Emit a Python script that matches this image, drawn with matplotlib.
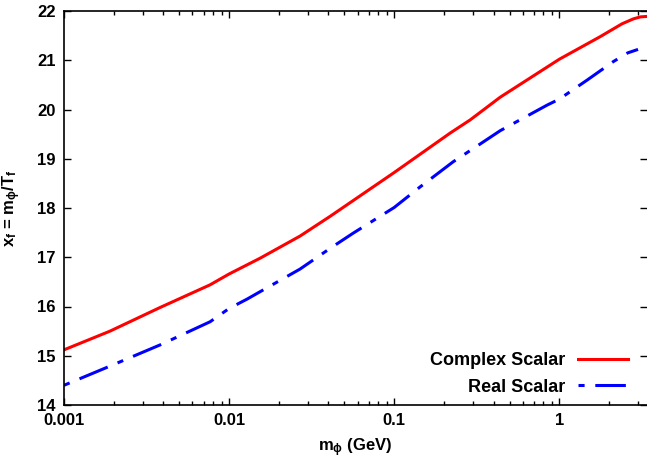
import matplotlib
matplotlib.use("Agg")
import matplotlib.pyplot as plt
from matplotlib.ticker import LogLocator, NullFormatter, FixedLocator

plt.rcParams['font.family'] = ['Liberation Sans', 'DejaVu Sans']
plt.rcParams['font.weight'] = 'bold'
plt.rcParams['mathtext.fontset'] = 'custom'
plt.rcParams['mathtext.rm'] = 'Liberation Sans:bold'
plt.rcParams['mathtext.bf'] = 'Liberation Sans:bold'
plt.rcParams['mathtext.it'] = 'Liberation Sans:bold'
plt.rcParams['mathtext.default'] = 'bf'

# values
m_complex = [0.001, 0.0019, 0.00382, 0.00767, 0.01, 0.0154, 0.0269, 0.0409,
             0.1, 0.218, 0.289, 0.439, 1.0, 1.772, 2.4, 2.81, 3.1, 3.4]
xf_complex = [15.12, 15.50, 15.98, 16.44, 16.66, 16.98, 17.43, 17.83,
              18.72, 19.52, 19.79, 20.25, 21.02, 21.48, 21.74, 21.84, 21.88, 21.89]

m_real = [0.001, 0.0019, 0.00382, 0.00767, 0.01, 0.01285, 0.0154, 0.0269,
          0.0409, 0.0565, 0.1, 0.1438, 0.228, 0.332, 0.439, 0.845, 1.0,
          1.479, 2.12, 2.6, 3.0]
xf_real = [14.40, 14.79, 15.22, 15.69, 15.96, 16.15, 16.30, 16.76,
           17.18, 17.49, 18.01, 18.43, 18.94, 19.30, 19.57, 20.09, 20.21,
           20.60, 20.97, 21.15, 21.22]

fig = plt.figure(figsize=(6.47, 4.59), dpi=100)
ax = fig.add_axes([64/647, 1 - 405/459, 583/647, 394/459])

ax.plot(m_complex, xf_complex, color='#ff0000', lw=2.2, label='Complex Scalar')
ax.plot(m_real, xf_real, color='#0000ff', lw=2.2, linestyle=(0, (2, 3.5, 10, 3.5)),
        label='Real Scalar')

ax.set_xscale('log')
ax.set_xlim(0.001, 3.4)
ax.set_ylim(14, 22)
ax.xaxis.set_major_locator(FixedLocator([0.001, 0.01, 0.1, 1]))
ax.set_xticklabels(['0.001', '0.01', '0.1', '1'], fontweight='bold')
ax.xaxis.set_minor_locator(LogLocator(base=10, subs=range(2, 10)))
ax.xaxis.set_minor_formatter(NullFormatter())
ax.set_yticks(range(14, 23))
ax.set_yticklabels([str(v) for v in range(14, 23)], fontweight='bold')

ax.tick_params(which='both', direction='in', top=True, right=True, labelsize=12, width=1)
ax.tick_params(which='major', length=5, pad=6)
ax.tick_params(which='minor', length=3)
ax.spines['right'].set_visible(False)
for s in ['left', 'bottom', 'top']:
    ax.spines[s].set_linewidth(1.2)

ax.set_xlabel(r'$m_\phi$ (GeV)', fontsize=12, fontweight='bold', labelpad=6)
ax.set_ylabel(r'$x_f$ = $m_\phi/T_f$', fontsize=12, fontweight='bold', labelpad=10)

leg = ax.legend(loc='lower right', bbox_to_anchor=(0.98, 0.005), frameon=False,
                markerfirst=False, handlelength=2.8, fontsize=13, labelspacing=0.55,
                borderaxespad=0, handletextpad=0.7)
for t in leg.get_texts():
    t.set_fontweight('bold')

fig.savefig('out.png', dpi=100)
